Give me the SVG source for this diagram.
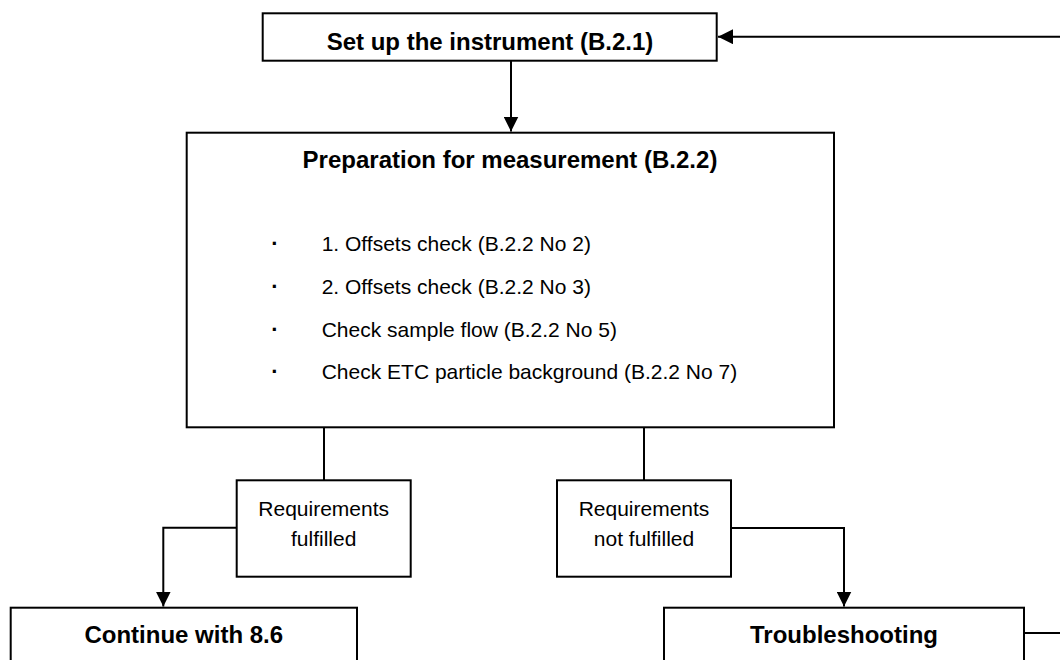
<svg xmlns="http://www.w3.org/2000/svg" width="1060" height="660" viewBox="0 0 1060 660">
<style>
.box{fill:#fff;stroke:#000;stroke-width:2}
.ln{fill:none;stroke:#000;stroke-width:2}
.b{font-family:"Liberation Sans",Arial,sans-serif;font-weight:bold;font-size:24px;fill:#000}
.r{font-family:"Liberation Sans",Arial,sans-serif;font-size:21px;fill:#000}
.dot{font-family:"Liberation Sans",Arial,sans-serif;font-weight:bold;font-size:22px;fill:#000}
</style>
<defs>
<marker id="ah" viewBox="0 0 15 15" refX="15" refY="7.5" markerWidth="15" markerHeight="15" markerUnits="userSpaceOnUse" orient="auto">
<path d="M0,0 L15,7.5 L0,15 Z" fill="#000"/>
</marker>
</defs>
<rect width="1060" height="660" fill="#fff"/>
<g id="connectors">
<path class="ln" d="M1060,36.7 H718" marker-end="url(#ah)"/>
<path class="ln" d="M511,61 V131.5" marker-end="url(#ah)"/>
<path class="ln" d="M324,427.3 V480.3"/>
<path class="ln" d="M644,427.3 V480.3"/>
<path class="ln" d="M236.7,527.7 H163.3 V606.5" marker-end="url(#ah)"/>
<path class="ln" d="M731,528 H844 V606.5" marker-end="url(#ah)"/>
<path class="ln" d="M1024,633 H1060"/>
</g>
<g id="setup">
<rect class="box" x="262.7" y="13.3" width="454" height="47.4"/>
<text class="b" x="490" y="50" text-anchor="middle">Set up the instrument (B.2.1)</text>
</g>
<g id="preparation">
<rect class="box" x="186.7" y="132.7" width="647.3" height="294.6"/>
<text class="b" x="510" y="168" text-anchor="middle">Preparation for measurement (B.2.2)</text>
<text class="dot" x="275" y="251" text-anchor="middle">·</text>
<text class="r" x="321.7" y="251">1. Offsets check (B.2.2 No 2)</text>
<text class="dot" x="275" y="293.5" text-anchor="middle">·</text>
<text class="r" x="321.7" y="293.5">2. Offsets check (B.2.2 No 3)</text>
<text class="dot" x="275" y="336.5" text-anchor="middle">·</text>
<text class="r" x="321.7" y="336.5">Check sample flow (B.2.2 No 5)</text>
<text class="dot" x="275" y="379" text-anchor="middle">·</text>
<text class="r" x="321.7" y="379">Check ETC particle background (B.2.2 No 7)</text>
</g>
<g id="fulfilled">
<rect class="box" x="236.7" y="480.3" width="174" height="96.4"/>
<text class="r" x="323.7" y="516" text-anchor="middle">Requirements</text>
<text class="r" x="323.7" y="546" text-anchor="middle">fulfilled</text>
</g>
<g id="notfulfilled">
<rect class="box" x="557" y="480.3" width="174" height="96.4"/>
<text class="r" x="644" y="516" text-anchor="middle">Requirements</text>
<text class="r" x="644" y="546" text-anchor="middle">not fulfilled</text>
</g>
<g id="continue">
<rect class="box" x="10.7" y="607.7" width="346.3" height="80"/>
<text class="b" x="183.8" y="642.7" text-anchor="middle">Continue with 8.6</text>
</g>
<g id="troubleshooting">
<rect class="box" x="664" y="607.7" width="360" height="80"/>
<text class="b" x="844" y="642.7" text-anchor="middle">Troubleshooting</text>
</g>
</svg>
